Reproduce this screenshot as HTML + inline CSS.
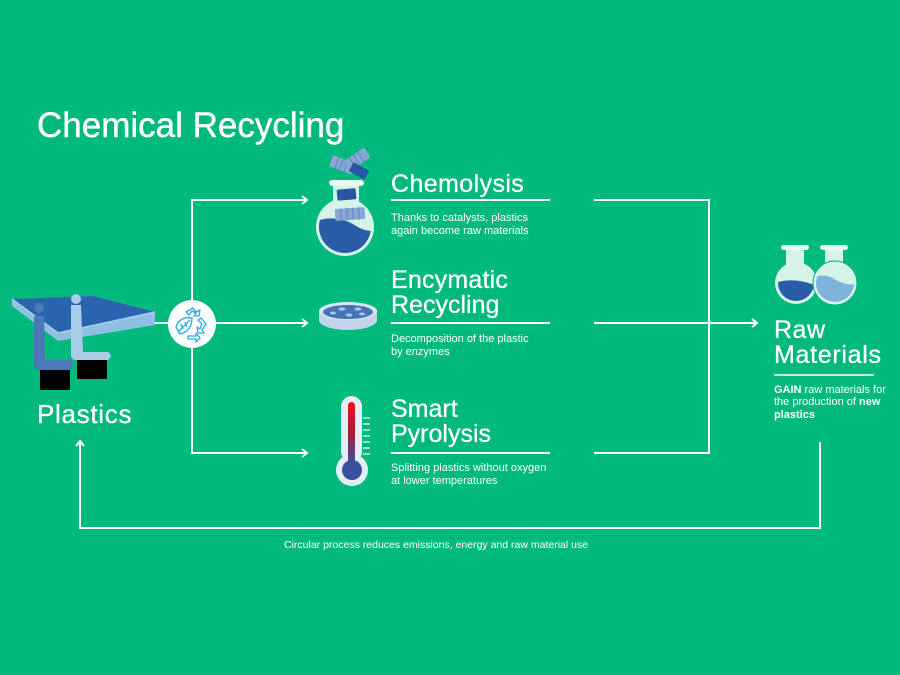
<!DOCTYPE html>
<html><head><meta charset="utf-8"><style>
html,body{margin:0;padding:0;background:#00b97c;}
svg{display:block;font-family:"Liberation Sans",Arial,sans-serif;}
</style></head><body>
<svg width="900" height="675" viewBox="0 0 900 675" xmlns="http://www.w3.org/2000/svg">
<defs>
<linearGradient id="tg" x1="0" y1="0" x2="0" y2="1">
<stop offset="0" stop-color="#ef1018"/><stop offset="0.5" stop-color="#a0203a"/><stop offset="1" stop-color="#3a4fa0"/>
</linearGradient>
<clipPath id="c1"><circle cx="345" cy="227" r="26"/></clipPath>
<clipPath id="c2"><circle cx="796" cy="283" r="18"/></clipPath>
<clipPath id="c3"><circle cx="835" cy="283" r="19"/></clipPath>
</defs>
<rect width="900" height="675" fill="#00b97c"/>

<!-- Title -->
<text x="37" y="137" font-size="35" fill="#fff" stroke="#fff" stroke-width="0.4">Chemical Recycling</text>

<!-- connectors -->
<g stroke="#fff" stroke-width="2" fill="none">
<line x1="155" y1="323" x2="307" y2="323"/>
<polyline points="307,200 192,200 192,453 307,453"/>
<polyline points="302,196 307,200 302,204"/>
<polyline points="302,319 307,323 302,327"/>
<polyline points="302,449 307,453 302,457"/>
<polyline points="594,200 709,200 709,453 594,453"/>
<line x1="594" y1="323" x2="757" y2="323"/>
<polyline points="752,319 757,323 752,327"/>
<polyline points="80,441 80,528 820,528 820,442"/>
<polyline points="76,446 80,441 84,446"/>
</g>

<!-- recycle circle -->
<circle cx="192" cy="324" r="24" fill="#fff"/>
<g stroke="#2aa8e6" stroke-width="1.3" fill="none" stroke-linejoin="round">
<path d="M176 327 Q180 316 192 318 Q192 331 180 334 Z"/>
<path d="M178 332 L190 320 M181 324 L183 329 M185 322 L187 327"/>
<path d="M186 312 L193 308 L196 312 L200 310 L199 316 L194 316 L196 313 L192 311 L189 315 Z"/>
<path d="M201 318 L206 324 L202 330 L204 333 L198 333 L197 327 L200 329 L202 324 L198 320 Z"/>
<path d="M188 336 L196 336 L196 333 L200 338 L196 342 L196 339 L188 339 Z"/>
</g>

<!-- Plastics tray icon -->
<polygon points="12,299 93,296 155,312 155,325 58,341 12,306" fill="#8fc0e2"/>
<polygon points="12,299 93,296 155,312 58,333" fill="#2a64ae"/>
<line x1="12" y1="299" x2="58" y2="333" stroke="#a9d0ec" stroke-width="1.5"/>
<line x1="58" y1="333" x2="155" y2="312" stroke="#a9d0ec" stroke-width="1.5"/>
<!-- dark seat -->
<rect x="40" y="370" width="30" height="20" fill="#000"/>
<circle cx="39" cy="308" r="5" fill="#4a78b8"/>
<path d="M34 316 L44 316 L45 360 L71 360 Q74 362 73 366 L70 370 L38 370 Q34 369 34 365 Z" fill="#4a79ba"/>
<!-- light seat -->
<rect x="77" y="360" width="30" height="19" fill="#000"/>
<circle cx="76" cy="299" r="5" fill="#a8cbe6"/>
<path d="M71 305 L81 305 L83 352 L108 352 Q112 354 110 358 L108 360 L75 360 Q71 359 71 355 Z" fill="#a9cce8"/>

<text x="37" y="423" font-size="26" fill="#fff" letter-spacing="0.7" stroke="#fff" stroke-width="0.3">Plastics</text>

<!-- Chemolysis flask -->
<g transform="rotate(20 343 166)">
<rect x="330" y="159" width="24" height="12" rx="1.5" fill="#8aa6d6"/>
<g stroke="#5f82c0" stroke-width="1"><line x1="336" y1="159" x2="336" y2="171"/><line x1="341" y1="159" x2="341" y2="171"/><line x1="346" y1="159" x2="346" y2="171"/></g>
</g>
<g transform="rotate(-35 358 160)">
<rect x="346" y="153" width="24" height="12" rx="1.5" fill="#8aa6d6"/>
<g stroke="#5f82c0" stroke-width="1"><line x1="352" y1="153" x2="352" y2="165"/><line x1="357" y1="153" x2="357" y2="165"/><line x1="362" y1="153" x2="362" y2="165"/></g>
</g>
<rect x="350" y="166" width="18" height="10" rx="1.5" fill="#2a55a5" transform="rotate(30 359 171)"/>
<circle cx="345" cy="227" r="29" fill="#d6f3e8"/>
<rect x="333" y="184" width="26" height="22" fill="#d6f3e8"/>
<rect x="329" y="180" width="35" height="6" rx="3" fill="#eaf8f2"/>
<g clip-path="url(#c1)">
<path d="M316 221 Q338 214 356 226 Q366 232 376 231 L376 260 L316 260 Z" fill="#2a5ca8"/>
</g>
<rect x="337" y="189" width="19" height="11" rx="1.5" fill="#2a55a5" transform="rotate(-5 346 194)"/>
<g transform="rotate(-4 350 214)">
<rect x="335" y="208" width="30" height="12" rx="1.5" fill="#8aa6d6"/>
<g stroke="#5f82c0" stroke-width="1"><line x1="341" y1="208" x2="341" y2="220"/><line x1="347" y1="208" x2="347" y2="220"/><line x1="353" y1="208" x2="353" y2="220"/><line x1="359" y1="208" x2="359" y2="220"/></g>
</g>

<g fill="#fff" stroke="#fff" stroke-width="0.3">
<text x="391" y="192" font-size="25" letter-spacing="0.4">Chemolysis</text>
<text x="391" y="288" font-size="25" letter-spacing="0.2">Encymatic</text>
<text x="391" y="313" font-size="25">Recycling</text>
<text x="391" y="417" font-size="25">Smart</text>
<text x="391" y="442" font-size="25">Pyrolysis</text>
<text x="774" y="338" font-size="25" letter-spacing="0.5">Raw</text>
<text x="774" y="363" font-size="25" letter-spacing="0.7">Materials</text>
</g>

<line x1="391" y1="200" x2="550" y2="200" stroke="#fff" stroke-width="2"/>
<text x="391" y="221" font-size="11" fill="#fff">Thanks to catalysts, plastics</text>
<text x="391" y="234" font-size="11" fill="#fff">again become raw materials</text>

<!-- Petri dish -->
<ellipse cx="348" cy="320" rx="29" ry="10" fill="#c4d3ec"/>
<rect x="319" y="311" width="58" height="9" fill="#c4d3ec"/>
<ellipse cx="348" cy="311" rx="29" ry="9" fill="#dbe6f4"/>
<ellipse cx="348" cy="312" rx="25" ry="7" fill="#4673b5"/>
<g fill="#a9c7ea">
<ellipse cx="342" cy="309" rx="3.5" ry="1.6"/><ellipse cx="358" cy="309" rx="3.5" ry="1.6"/>
<ellipse cx="349" cy="315" rx="3.5" ry="1.6"/><ellipse cx="333" cy="313" rx="3" ry="1.5"/><ellipse cx="362" cy="314" rx="3" ry="1.5"/>
</g>

<line x1="391" y1="323" x2="550" y2="323" stroke="#fff" stroke-width="2"/>
<text x="391" y="342" font-size="11" fill="#fff">Decomposition of the plastic</text>
<text x="391" y="355" font-size="11" fill="#fff">by enzymes</text>

<!-- Thermometer -->
<rect x="341" y="396" width="21" height="66" rx="10.5" fill="#e4eef4"/>
<circle cx="352" cy="470" r="16" fill="#e4eef4"/>
<rect x="348" y="402" width="7" height="62" rx="3.5" fill="url(#tg)"/>
<circle cx="352" cy="470" r="10" fill="#3a4fa0"/>
<g stroke="#d2e4ea" stroke-width="1.5">
<line x1="363" y1="418" x2="370" y2="418"/><line x1="363" y1="424" x2="370" y2="424"/>
<line x1="363" y1="430" x2="370" y2="430"/><line x1="363" y1="436" x2="370" y2="436"/>
<line x1="363" y1="442" x2="370" y2="442"/><line x1="363" y1="448" x2="370" y2="448"/>
<line x1="363" y1="454" x2="370" y2="454"/>
</g>

<line x1="391" y1="453" x2="550" y2="453" stroke="#fff" stroke-width="2"/>
<text x="391" y="471" font-size="11" fill="#fff">Splitting plastics without oxygen</text>
<text x="391" y="484" font-size="11" fill="#fff">at lower temperatures</text>

<!-- Raw materials flasks -->
<rect x="786" y="248" width="18" height="20" fill="#d6f3e8"/>
<rect x="781" y="245" width="28" height="5" rx="2.5" fill="#eaf8f2"/>
<circle cx="796" cy="283" r="21" fill="#d6f3e8"/>
<g clip-path="url(#c2)">
<path d="M775 283 Q790 278 805 282 Q812 284 818 286 L818 305 L775 305 Z" fill="#2a5ca8"/>
</g>
<rect x="825" y="248" width="18" height="20" fill="#d6f3e8"/>
<rect x="820" y="245" width="28" height="5" rx="2.5" fill="#eaf8f2"/>
<circle cx="835" cy="283" r="22" fill="#d6f3e8" stroke="#00b97c" stroke-width="1"/>
<g clip-path="url(#c3)">
<path d="M814 277 Q825 273 836 280 Q848 287 858 283 L858 306 L814 306 Z" fill="#7db3dc"/>
</g>

<line x1="774" y1="375" x2="874" y2="375" stroke="#fff" stroke-width="1.5"/>
<text x="774" y="393" font-size="11" fill="#fff"><tspan font-weight="bold">GAIN</tspan> raw materials for</text>
<text x="774" y="405" font-size="11" fill="#fff">the production of <tspan font-weight="bold">new</tspan></text>
<text x="774" y="418" font-size="11" fill="#fff" font-weight="bold">plastics</text>

<text x="284" y="548" font-size="10.5" fill="#fff">Circular process reduces emissions, energy and raw material use</text>
</svg>
</body></html>
